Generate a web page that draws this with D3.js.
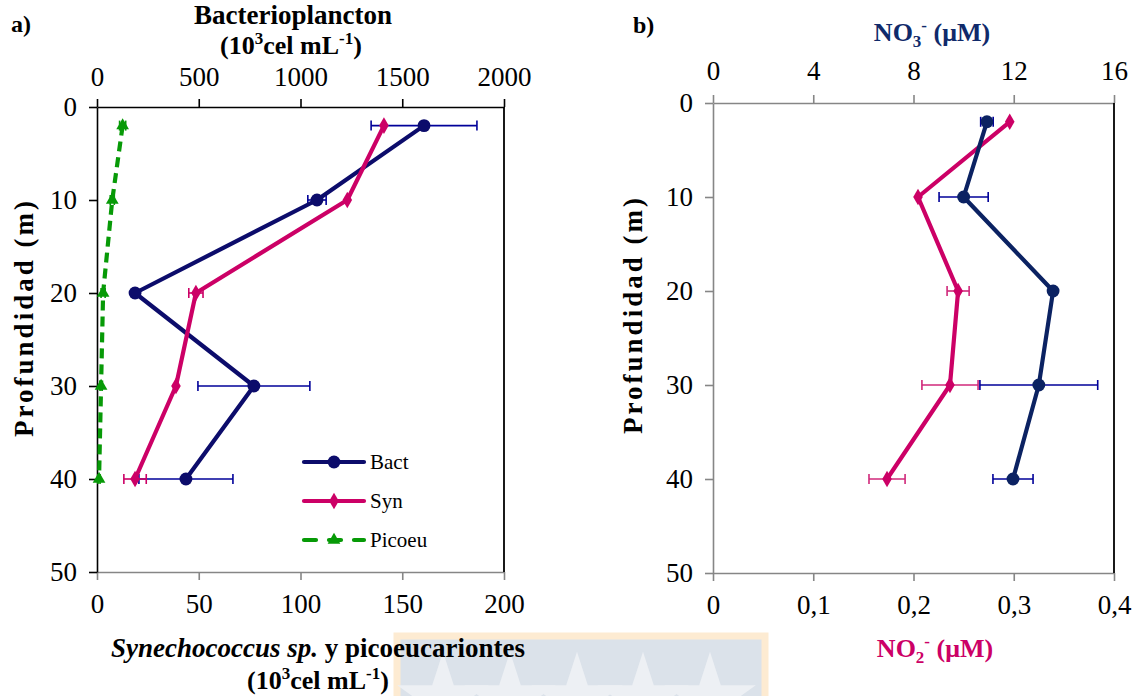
<!DOCTYPE html>
<html lang="es">
<head>
<meta charset="UTF-8">
<title>Perfiles de profundidad</title>
<script src="https://d3js.org/d3.v7.min.js"></script>
<style>
  body { margin: 0; background: #fff; }
  svg text { font-family: "Liberation Serif", "Times New Roman", serif; fill: #000; }
</style>
</head>
<body>
<svg id="chart" width="1136" height="696"></svg>
<script>
// depth of each sample (m)
const depths = [2, 10, 20, 30, 40];

// panel a) abundances (10^3 cel mL-1)
const bact = [1607, 1081, 187, 771, 437];
const bactErr = [260, 45, 10, 275, 231];
const syn = [141, 123, 48.6, 38.8, 18.7];
const synErr = [0, 0, 3.5, 0, 5.5];
const picoeu = [12.6, 7.5, 3, 2, 1];
const picoeuErr = [1.5, 1, 1, 0.5, 0.5];

// panel b) nutrients (uM)
const no3 = [10.93, 10.0, 13.57, 13.0, 11.97];
const no3Err = [0.25, 0.98, 0, 2.35, 0.8];
const no2 = [0.296, 0.2045, 0.2445, 0.2364, 0.1736];
const no2Err = [0, 0, 0.011, 0.028, 0.018];

// tick labels
const depthTicks = [0, 10, 20, 30, 40, 50];
const bactTicks = [0, 500, 1000, 1500, 2000];
const synTicks = [0, 50, 100, 150, 200];
const no3Ticks = [0, 4, 8, 12, 16];
const no2Ticks = [0, 0.1, 0.2, 0.3, 0.4];

const legendLabels = ["Bact", "Syn", "Picoeu"];

const svg = d3.select("#chart");

const navy = "#0c0c6b", magenta = "#cc0066", green = "#079a07";
const errBlue = "#000099", gray = "#868686";

// faded logo behind the bottom title
const wm = svg.append("g");
wm.append("rect").attr("x", 397).attr("y", 636).attr("width", 368).attr("height", 70)
  .attr("fill", "#dbe2ea").attr("stroke", "#fdebd2").attr("stroke-width", 7);
[443, 510, 577, 643, 710].forEach(cx => {
  wm.append("path")
    .attr("d", d3.symbol(d3.symbolStar, 2600)())
    .attr("transform", `translate(${cx},${700})`)
    .attr("fill", "#edf0f4");
});

function drawPanel(p) {
  const g = svg.append("g");
  const y = d3.scaleLinear().domain([0, 50]).range([p.top, p.bottom]);
  const xTop = d3.scaleLinear().domain(p.topDomain).range([p.left, p.right]);
  const xBot = d3.scaleLinear().domain(p.botDomain).range([p.left, p.right]);

  const top = g.append("g").attr("transform", `translate(0,${p.top})`)
    .call(d3.axisTop(xTop).tickValues(p.topTicks).tickSize(8).tickSizeOuter(0).tickPadding(p.topPad)
      .tickFormat(d3.format("d")));
  top.selectAll("path,line").attr("stroke", p.topColor).attr("stroke-width", 1.6);

  const bot = g.append("g").attr("transform", `translate(0,${p.bottom})`)
    .call(d3.axisBottom(xBot).tickValues(p.botTicks).tickSize(8).tickSizeOuter(0).tickPadding(14)
      .tickFormat(p.botFormat));
  bot.selectAll("path,line").attr("stroke", gray).attr("stroke-width", 1.6);

  const left = g.append("g").attr("transform", `translate(${p.left},0)`)
    .call(d3.axisLeft(y).tickValues(depthTicks).tickSize(8).tickSizeOuter(0).tickPadding(12));
  left.selectAll("path,line").attr("stroke", p.leftColor).attr("stroke-width", 1.6);

  g.selectAll(".tick text").attr("font-size", 27).attr("fill", "#000")
    .style("font-family", '"Liberation Serif", serif');

  g.append("line").attr("x1", p.right).attr("x2", p.right).attr("y1", p.top).attr("y2", p.bottom)
    .attr("stroke", "#000").attr("stroke-width", 1.8);

  const line = x => d3.line().x(d => x(d.v)).y(d => y(d.d));

  p.series.forEach(s => {
    const x = s.axis === "top" ? xTop : xBot;
    const pts = depths.map((d, i) => ({ d, v: s.values[i], e: s.errors[i] }));

    const eb = g.append("g").attr("stroke", s.errColor).attr("stroke-width", 1.6);
    pts.filter(q => q.e > 0).forEach(q => {
      const yy = y(q.d);
      eb.append("line").attr("x1", x(q.v - q.e)).attr("x2", x(q.v + q.e)).attr("y1", yy).attr("y2", yy);
      [q.v - q.e, q.v + q.e].forEach(v => {
        eb.append("line").attr("x1", x(v)).attr("x2", x(v)).attr("y1", yy - 5).attr("y2", yy + 5);
      });
    });

    g.append("path").datum(pts).attr("d", line(x))
      .attr("fill", "none").attr("stroke", s.color).attr("stroke-width", 4.2)
      .attr("stroke-linejoin", "round")
      .attr("stroke-dasharray", s.dash || null);

    g.selectAll(null).data(pts).join("path")
      .attr("d", d3.symbol(s.symbol, s.size)())
      .attr("transform", q => `translate(${x(q.v)},${y(q.d)})`)
      .attr("fill", s.color);
  });
  return g;
}

const fmtComma = d => d === 0 ? "0" : d3.format(".1f")(d).replace(".", ",");

const seriesA = [
  { values: picoeu, errors: picoeuErr, axis: "bot", color: green, errColor: green, symbol: d3.symbolTriangle, size: 70, dash: "10,6" },
  { values: bact, errors: bactErr, axis: "top", color: navy, errColor: errBlue, symbol: d3.symbolCircle, size: 130 },
  { values: syn, errors: synErr, axis: "bot", color: magenta, errColor: magenta, symbol: d3.symbolDiamond, size: 80 }
];

drawPanel({
  left: 97, right: 504, top: 107, bottom: 572, topPad: 13,
  topDomain: [0, 2000], botDomain: [0, 200],
  topTicks: bactTicks, botTicks: synTicks, botFormat: d3.format("d"),
  topColor: "#000", leftColor: "#000",
  series: seriesA
});

drawPanel({
  left: 713, right: 1114, top: 103, bottom: 573, topPad: 15,
  topDomain: [0, 16], botDomain: [0, 0.4],
  topTicks: no3Ticks, botTicks: no2Ticks, botFormat: fmtComma,
  topColor: gray, leftColor: gray,
  series: [
    { values: no2, errors: no2Err, axis: "bot", color: magenta, errColor: "#d0287a", symbol: d3.symbolDiamond, size: 80 },
    { values: no3, errors: no3Err, axis: "top", color: "#0b2262", errColor: errBlue, symbol: d3.symbolCircle, size: 130 }
  ]
});

// legend for panel a
const legendSeries = [seriesA[1], seriesA[2], seriesA[0]];
legendSeries.forEach((s, i) => {
  const ly = 462 + i * 39;
  const lg = svg.append("g");
  lg.append("line").attr("x1", 304).attr("x2", 364).attr("y1", ly).attr("y2", ly)
    .attr("stroke", s.color).attr("stroke-width", 4.2).attr("stroke-linecap", "round")
    .attr("stroke-dasharray", s.dash ? "12,13" : null);
  lg.append("path").attr("d", d3.symbol(s.symbol, s.size)())
    .attr("transform", `translate(334,${ly})`).attr("fill", s.color);
  lg.append("text").attr("x", 370).attr("y", ly + 7).attr("font-size", 21).text(legendLabels[i]);
});

// titles
function unitsLine(x, y) {
  const t = svg.append("text").attr("x", x).attr("y", y).attr("text-anchor", "middle")
    .attr("font-size", 26).attr("font-weight", "bold");
  t.append("tspan").text("(10");
  t.append("tspan").attr("dy", -10).attr("font-size", 17).text("3");
  t.append("tspan").attr("dy", 10).text("cel mL");
  t.append("tspan").attr("dy", -10).attr("font-size", 17).text("-1");
  t.append("tspan").attr("dy", 10).text(")");
}

svg.append("text").attr("x", 11).attr("y", 32).attr("font-size", 24).attr("font-weight", "bold").text("a)");
svg.append("text").attr("x", 633).attr("y", 33).attr("font-size", 24).attr("font-weight", "bold").text("b)");

svg.append("text").attr("x", 293).attr("y", 24).attr("text-anchor", "middle")
  .attr("font-size", 27).attr("font-weight", "bold").text("Bacterioplancton");
unitsLine(291, 54);

const bt = svg.append("text").attr("x", 318).attr("y", 657).attr("text-anchor", "middle")
  .attr("font-size", 27).attr("font-weight", "bold");
bt.append("tspan").attr("font-style", "italic").text("Synechococcus sp.");
bt.append("tspan").text(" y picoeucariontes");
unitsLine(318, 689);

function depthTitle(x, cy) {
  svg.append("text").attr("transform", `translate(${x},${cy}) rotate(-90)`)
    .attr("text-anchor", "middle").attr("font-size", 27).attr("font-weight", "bold")
    .attr("textLength", 236).attr("lengthAdjust", "spacing")
    .text("Profundidad (m)");
}
depthTitle(33, 319);
depthTitle(642, 316);

const n3 = svg.append("text").attr("x", 932).attr("y", 41).attr("text-anchor", "middle")
  .attr("font-size", 26).attr("font-weight", "bold").style("fill", "#102a6a");
n3.append("tspan").text("NO");
n3.append("tspan").attr("dy", 6).attr("font-size", 17).text("3");
n3.append("tspan").attr("dy", -16).attr("font-size", 17).text("-");
n3.append("tspan").attr("dy", 10).text(" (\u03bcM)");

const n2 = svg.append("text").attr("x", 935).attr("y", 657).attr("text-anchor", "middle")
  .attr("font-size", 26).attr("font-weight", "bold").style("fill", magenta);
n2.append("tspan").text("NO");
n2.append("tspan").attr("dy", 6).attr("font-size", 17).text("2");
n2.append("tspan").attr("dy", -16).attr("font-size", 17).text("-");
n2.append("tspan").attr("dy", 10).text(" (\u03bcM)");
</script>
</body>
</html>
